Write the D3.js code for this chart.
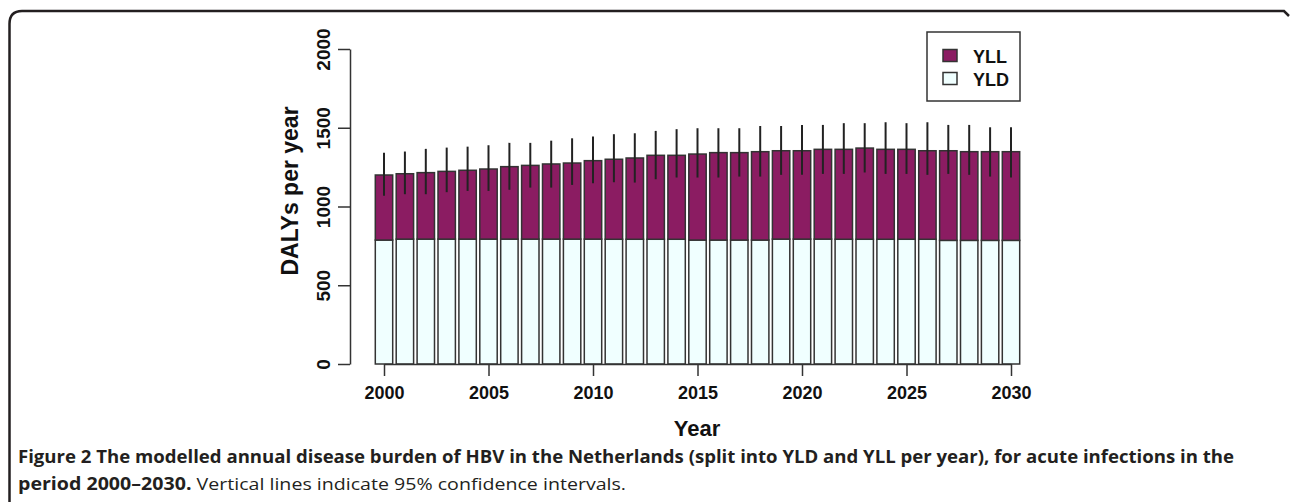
<!DOCTYPE html>
<html>
<head>
<meta charset="utf-8">
<script src="https://cdn.jsdelivr.net/npm/d3@7"></script>
<style>
  body { margin: 0; background: #fff; }
  svg { display: block; }
</style>
</head>
<body>
<script>
// years and values
const years = [2000, 2001, 2002, 2003, 2004, 2005, 2006, 2007, 2008, 2009, 2010,
  2011, 2012, 2013, 2014, 2015, 2016, 2017, 2018, 2019, 2020,
  2021, 2022, 2023, 2024, 2025, 2026, 2027, 2028, 2029, 2030];
const yld = [787, 793, 793, 793, 793, 793, 793, 793, 793, 793, 793,
  792, 792, 792, 792, 787, 787, 787, 787, 793, 793,
  793, 792, 792, 792, 792, 792, 785, 785, 785, 785];
const yll = [413, 415, 422, 430, 437, 445, 460, 468, 477, 483, 498,
  508, 516, 533, 533, 546, 555, 555, 561, 561, 561,
  570, 571, 579, 571, 571, 562, 569, 563, 563, 563];
const ciLow = [1068, 1078, 1078, 1091, 1099, 1099, 1106, 1120, 1120, 1137, 1148,
  1154, 1152, 1173, 1184, 1184, 1184, 1190, 1190, 1201, 1201,
  1207, 1207, 1216, 1207, 1207, 1201, 1207, 1201, 1190, 1184];
const ciHigh = [1342, 1349, 1366, 1374, 1380, 1389, 1404, 1404, 1418, 1433, 1444,
  1459, 1465, 1480, 1491, 1497, 1497, 1497, 1511, 1511, 1518,
  1518, 1529, 1529, 1535, 1529, 1535, 1518, 1518, 1503, 1503];
const xTicks = [2000, 2005, 2010, 2015, 2020, 2025, 2030];
const yTicks = [0, 500, 1000, 1500, 2000];
const series = ["YLL", "YLD"];
const colors = { YLL: "#8b1c62", YLD: "#f0ffff" };

const W = 1290, H = 502;
const svg = d3.select("body").append("svg").attr("width", W).attr("height", H);

// frame round the figure
svg.append("path")
  .attr("d", "M9.5,502 L9.5,24 Q9.5,11 22,11 L1284,11 L1289,16")
  .attr("fill", "none").attr("stroke", "#231f20").attr("stroke-width", 2.5);

const x = d3.scaleLinear().domain([2000, 2030]).range([384, 1011]);
const y = d3.scaleLinear().domain([0, 2000]).range([364, 49]);
const bw = 17.4;

const rows = years.map((yr, i) => ({ yr, yld: yld[i], yll: yll[i], lo: ciLow[i], hi: ciHigh[i] }));

const bars = svg.append("g");
bars.selectAll("rect.yld").data(rows).enter().append("rect")
  .attr("x", d => x(d.yr) - bw / 2).attr("width", bw)
  .attr("y", d => y(d.yld)).attr("height", d => y(0) - y(d.yld))
  .attr("fill", colors.YLD).attr("stroke", "#333").attr("stroke-width", 1.5);
bars.selectAll("rect.yll").data(rows).enter().append("rect")
  .attr("x", d => x(d.yr) - bw / 2).attr("width", bw)
  .attr("y", d => y(d.yld + d.yll)).attr("height", d => y(d.yld) - y(d.yld + d.yll))
  .attr("fill", colors.YLL).attr("stroke", "#333").attr("stroke-width", 1.5);

// confidence intervals
svg.append("g").selectAll("line").data(rows).enter().append("line")
  .attr("x1", d => x(d.yr)).attr("x2", d => x(d.yr))
  .attr("y1", d => y(d.lo)).attr("y2", d => y(d.hi))
  .attr("stroke", "#222").attr("stroke-width", 2);

const font = "'Liberation Sans', Arial, sans-serif";

// x axis
const gx = svg.append("g").attr("transform", `translate(0,${y(0)})`)
  .call(d3.axisBottom(x).tickValues(xTicks).tickFormat(d3.format("d")).tickSize(12).tickSizeOuter(0));
gx.select(".domain").attr("stroke", "#333").attr("stroke-width", 1.5);
gx.selectAll(".tick line").attr("stroke", "#333").attr("stroke-width", 1.5);
gx.selectAll(".tick text").attr("y", 22).attr("dy", "0.71em")
  .style("font", `bold 18px ${font}`).attr("fill", "#111");

// y axis, labels turned like R's las=0
const gy = svg.append("g").attr("transform", "translate(350,0)")
  .call(d3.axisLeft(y).tickValues(yTicks).tickFormat(d3.format("d")).tickSize(12).tickSizeOuter(0));
gy.select(".domain").attr("stroke", "#333").attr("stroke-width", 1.5);
gy.selectAll(".tick line").attr("stroke", "#333").attr("stroke-width", 1.5);
gy.selectAll(".tick text")
  .attr("x", null).attr("dy", null)
  .attr("transform", "translate(-20,0) rotate(-90)")
  .attr("text-anchor", "middle")
  .style("font", `bold 19px ${font}`).attr("fill", "#111");

svg.append("text")
  .attr("transform", "translate(298,191) rotate(-90)")
  .attr("text-anchor", "middle")
  .style("font", `bold 23px ${font}`).attr("fill", "#111")
  .text("DALYs per year");

svg.append("text")
  .attr("x", 697).attr("y", 436).attr("text-anchor", "middle")
  .style("font", `bold 22px ${font}`).attr("fill", "#111")
  .text("Year");

// legend
const lg = svg.append("g");
lg.append("rect").attr("x", 927).attr("y", 32).attr("width", 93).attr("height", 69)
  .attr("fill", "#fff").attr("stroke", "#333").attr("stroke-width", 1.5);
series.forEach((s, i) => {
  const cy = 56 + i * 23;
  lg.append("rect").attr("x", 943).attr("y", cy - 6.5).attr("width", 14).attr("height", 12)
    .attr("fill", colors[s]).attr("stroke", "#333").attr("stroke-width", 1.5);
  lg.append("text").attr("x", 973).attr("y", cy + 7)
    .style("font", `bold 18px ${font}`).attr("fill", "#111").text(s);
});

// caption
const capFont = "'Open Sans', 'Noto Sans', sans-serif";
svg.append("text").attr("x", 18).attr("y", 463)
  .attr("textLength", 1216).attr("lengthAdjust", "spacingAndGlyphs")
  .style("font", `bold 17px ${capFont}`).attr("fill", "#231f20")
  .text("Figure 2 The modelled annual disease burden of HBV in the Netherlands (split into YLD and YLL per year), for acute infections in the");
const c2 = svg.append("text").attr("x", 18).attr("y", 490)
  .attr("textLength", 608).attr("lengthAdjust", "spacingAndGlyphs")
  .style("font", `17px ${capFont}`).attr("fill", "#231f20");
c2.append("tspan").attr("font-weight", "bold").text("period 2000\u20132030.");
c2.append("tspan").text(" Vertical lines indicate 95% confidence intervals.");
</script>
</body>
</html>
